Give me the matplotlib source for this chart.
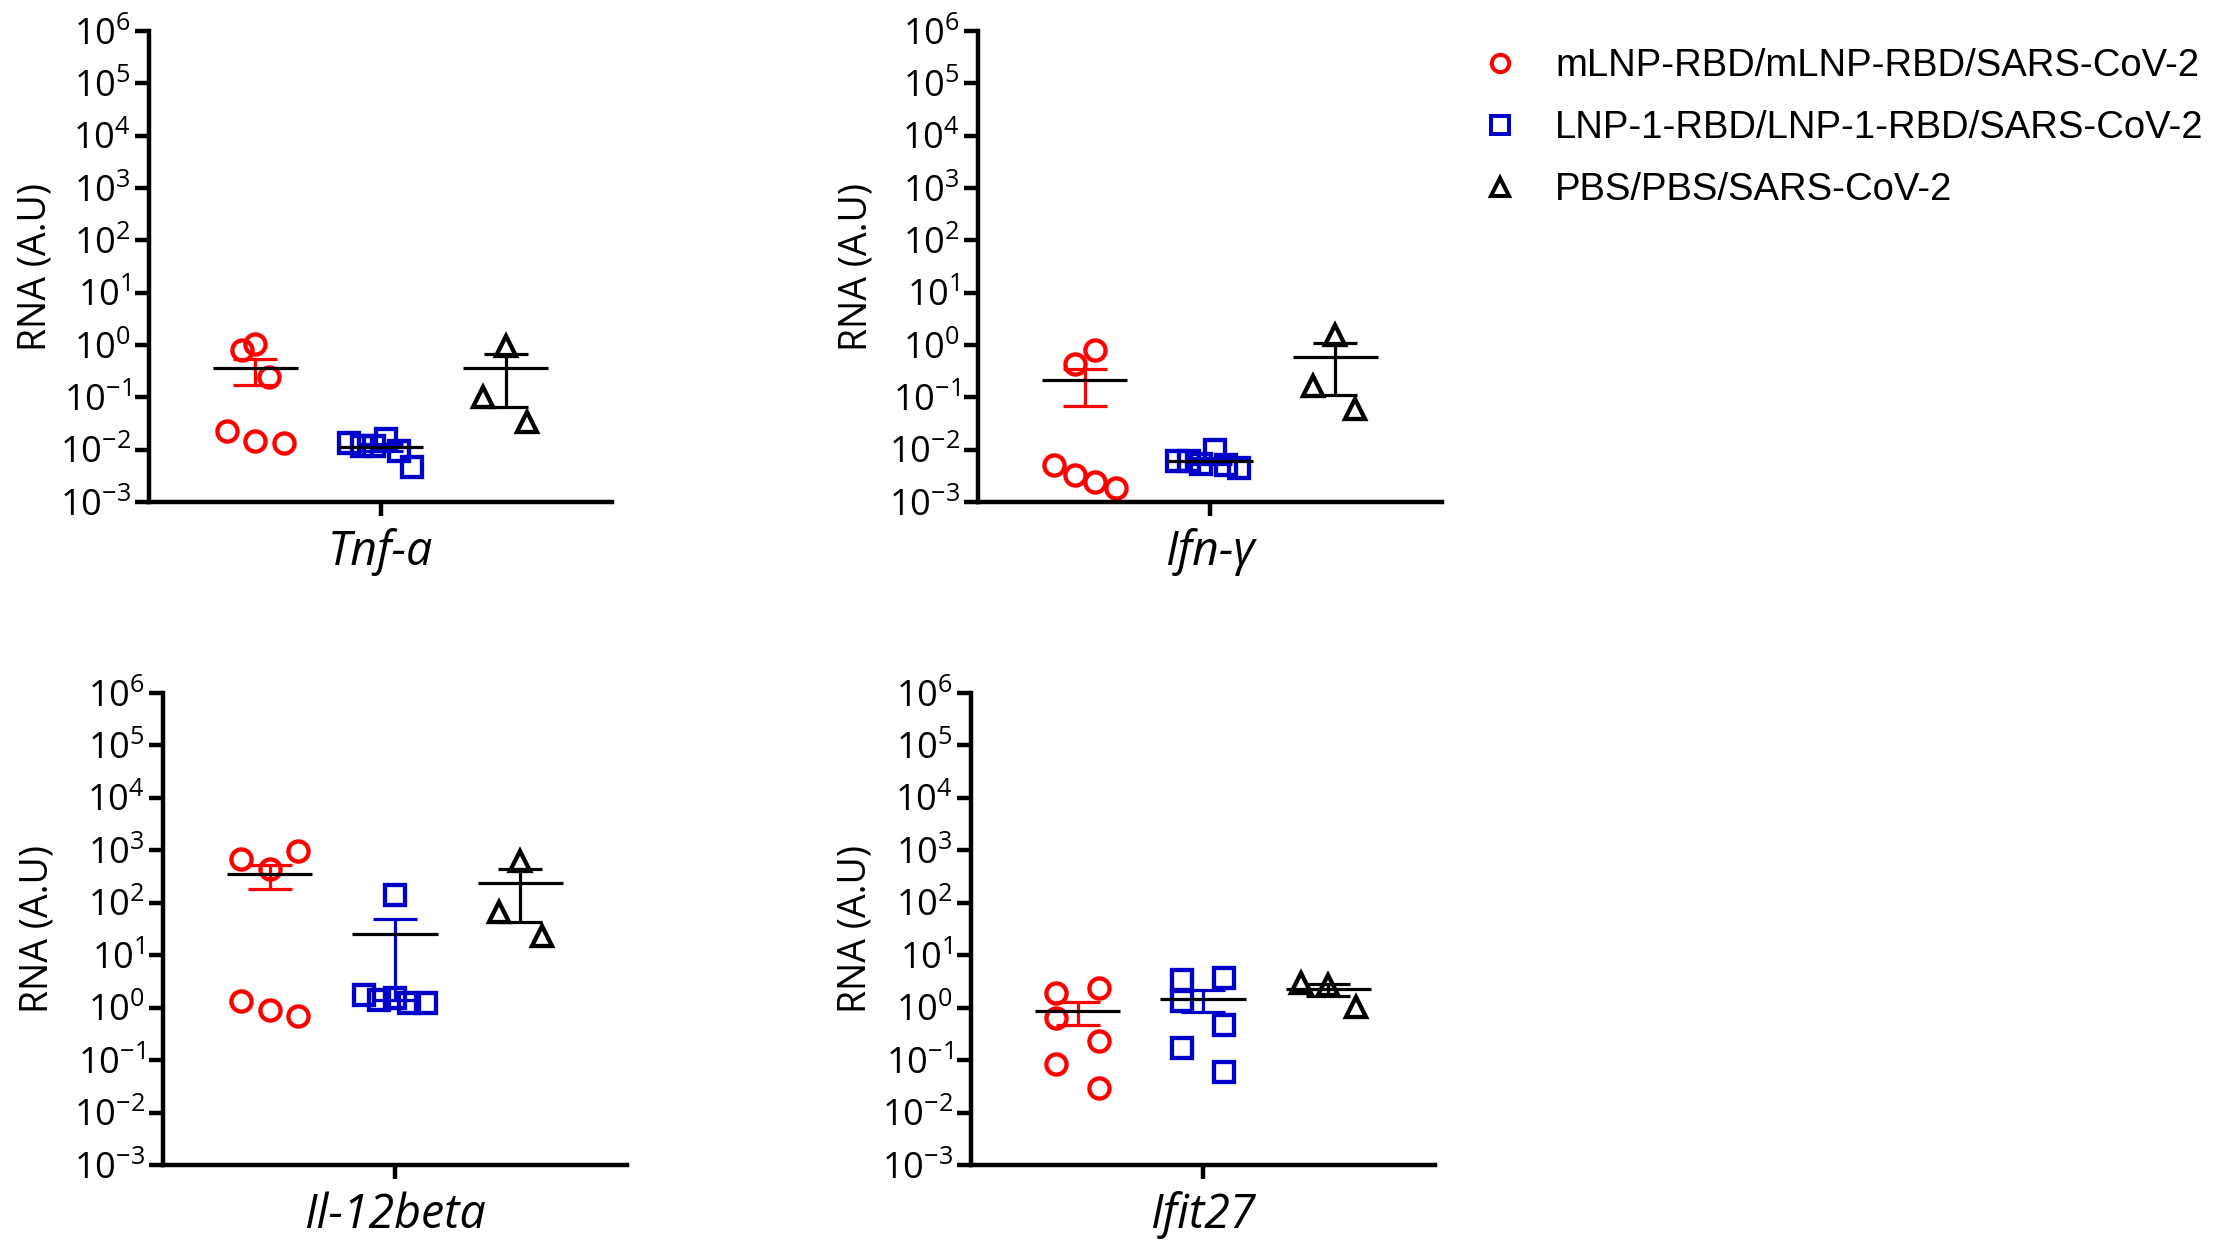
import numpy as np
import matplotlib
matplotlib.use("Agg")
import matplotlib.pyplot as plt
from matplotlib.lines import Line2D

plt.rcParams['font.family'] = ['Open Sans', 'DejaVu Sans']
plt.rcParams['mathtext.fontset'] = 'custom'
plt.rcParams['mathtext.rm'] = 'Open Sans'
plt.rcParams['mathtext.it'] = 'Open Sans:italic'
plt.rcParams['mathtext.default'] = 'regular'

groups = ["mLNP-RBD/mLNP-RBD/SARS-CoV-2",
          "LNP-1-RBD/LNP-1-RBD/SARS-CoV-2",
          "PBS/PBS/SARS-CoV-2"]
genes = ["Tnf-a", "Ifn-\u03b3", "Il-12beta", "Ifit27"]

# RNA (A.U) per animal
tnf_mlnp = [0.82, 1.05, 0.25, 0.0224, 0.0145, 0.0137]
tnf_lnp1 = [0.0137, 0.0117, 0.0117, 0.0162, 0.0096, 0.0046]
tnf_pbs = [0.97, 0.101, 0.0338]

ifn_mlnp = [0.428, 0.82, 0.00514, 0.00325, 0.00246, 0.00186]
ifn_lnp1 = [0.0061, 0.0061, 0.0053, 0.0097, 0.0051, 0.0044]
ifn_pbs = [1.58, 0.166, 0.060]

il12_mlnp = [679, 437, 991, 1.35, 0.895, 0.70]
il12_lnp1 = [143, 1.72, 1.42, 1.51, 1.24, 1.21]
il12_pbs = [626, 65.3, 22.9]

ifit_mlnp = [1.87, 2.39, 0.624, 0.233, 0.083, 0.0296]
ifit_lnp1 = [3.32, 1.35, 3.6, 0.464, 0.168, 0.060]
ifit_pbs = [2.9, 2.75, 1.05]

# horizontal scatter of the points inside each column (GraphPad style spread)
tnf_dx = [[-0.11, 0, 0.11, -0.23, 0, 0.23],
          [-0.25, -0.145, -0.05, 0.047, 0.15, 0.254],
          [0, -0.18, 0.17]]
ifn_dx = [[-0.08, 0.08, -0.24, -0.08, 0.08, 0.25],
          [-0.26, -0.17, -0.07, 0.04, 0.13, 0.235],
          [0, -0.175, 0.16]]
il12_dx = [[-0.23, 0, 0.23, -0.23, 0, 0.23],
           [0, -0.25, -0.13, 0, 0.11, 0.25],
           [0, -0.17, 0.17]]
ifit_dx = [[-0.17, 0.17, -0.17, 0.17, -0.17, 0.17],
           [-0.17, -0.17, 0.17, 0.17, -0.17, 0.17],
           [-0.22, 0, 0.22]]

panels = [
    (genes[0], [tnf_mlnp, tnf_lnp1, tnf_pbs], tnf_dx),
    (genes[1], [ifn_mlnp, ifn_lnp1, ifn_pbs], ifn_dx),
    (genes[2], [il12_mlnp, il12_lnp1, il12_pbs], il12_dx),
    (genes[3], [ifit_mlnp, ifit_lnp1, ifit_pbs], ifit_dx),
]

colors = ['#ff0000', '#0000c8', 'black']
markers = ['o', 's', '^']

fig = plt.figure(figsize=(22.36, 12.41), dpi=100)
W, H = 2236.0, 1241.0

# axes boxes in pixels: left, top, right, bottom
boxes = [(149, 31, 612, 502), (978, 31, 1442, 502),
         (163, 693, 627, 1165), (971, 693, 1435, 1165)]
ylab_x = [-0.245, -0.262, -0.27, -0.248]

for (gene, data, dx), (l, t, r, b), lx in zip(panels, boxes, ylab_x):
    ax = fig.add_axes([l / W, 1 - b / H, (r - l) / W, (b - t) / H])
    for i, vals in enumerate(data):
        vals = np.array(vals)
        xc = i + 1
        ax.plot(xc + np.array(dx[i]), vals, linestyle='none',
                marker=markers[i], ms=14.5, mew=3.1, mfc='none',
                mec=colors[i], zorder=2, clip_on=False)
        mean = vals.mean()
        sem = vals.std(ddof=1) / np.sqrt(len(vals))
        ax.errorbar([xc], [mean], yerr=[[sem], [sem]], fmt='none',
                    ecolor=colors[i], elinewidth=2.3, capsize=15.8,
                    capthick=2.3, zorder=3)
        ax.hlines(mean, xc - 0.34, xc + 0.34, color='black', lw=2.3,
                  zorder=4)

    ax.set_yscale('log')
    ax.set_ylim(1e-3, 1e6)
    ax.set_yticks([10.0 ** k for k in range(-3, 7)])
    ax.yaxis.set_minor_locator(matplotlib.ticker.NullLocator())
    ax.set_xlim(0.15, 3.85)
    ax.set_xticks([2])
    ax.set_xticklabels([gene], fontsize=33.5, fontstyle='italic')

    for side in ['top', 'right']:
        ax.spines[side].set_visible(False)
    for side in ['left', 'bottom']:
        ax.spines[side].set_linewidth(3.2)
    ax.tick_params(axis='both', width=3.2, length=10)
    ax.tick_params(axis='y', labelsize=26, pad=3)
    ax.tick_params(axis='x', pad=9)

    ax.set_ylabel("RNA (A.U)", fontsize=27, va='center')
    ax.yaxis.set_label_coords(lx, 0.5)

handles = [Line2D([], [], linestyle='none', marker=m, ms=12.5, mew=2.9,
                  mfc='none', mec=c) for m, c in zip(markers, colors)]
fig.legend(handles, groups, loc='upper left',
           bbox_to_anchor=(1485 / W, 1 - 48 / H), frameon=False,
           prop={'family': 'Liberation Sans', 'size': 27.5},
           handlelength=0.8, handletextpad=1.04, labelspacing=0.68,
           borderpad=0, borderaxespad=0)

fig.savefig("out.png", dpi=100)
